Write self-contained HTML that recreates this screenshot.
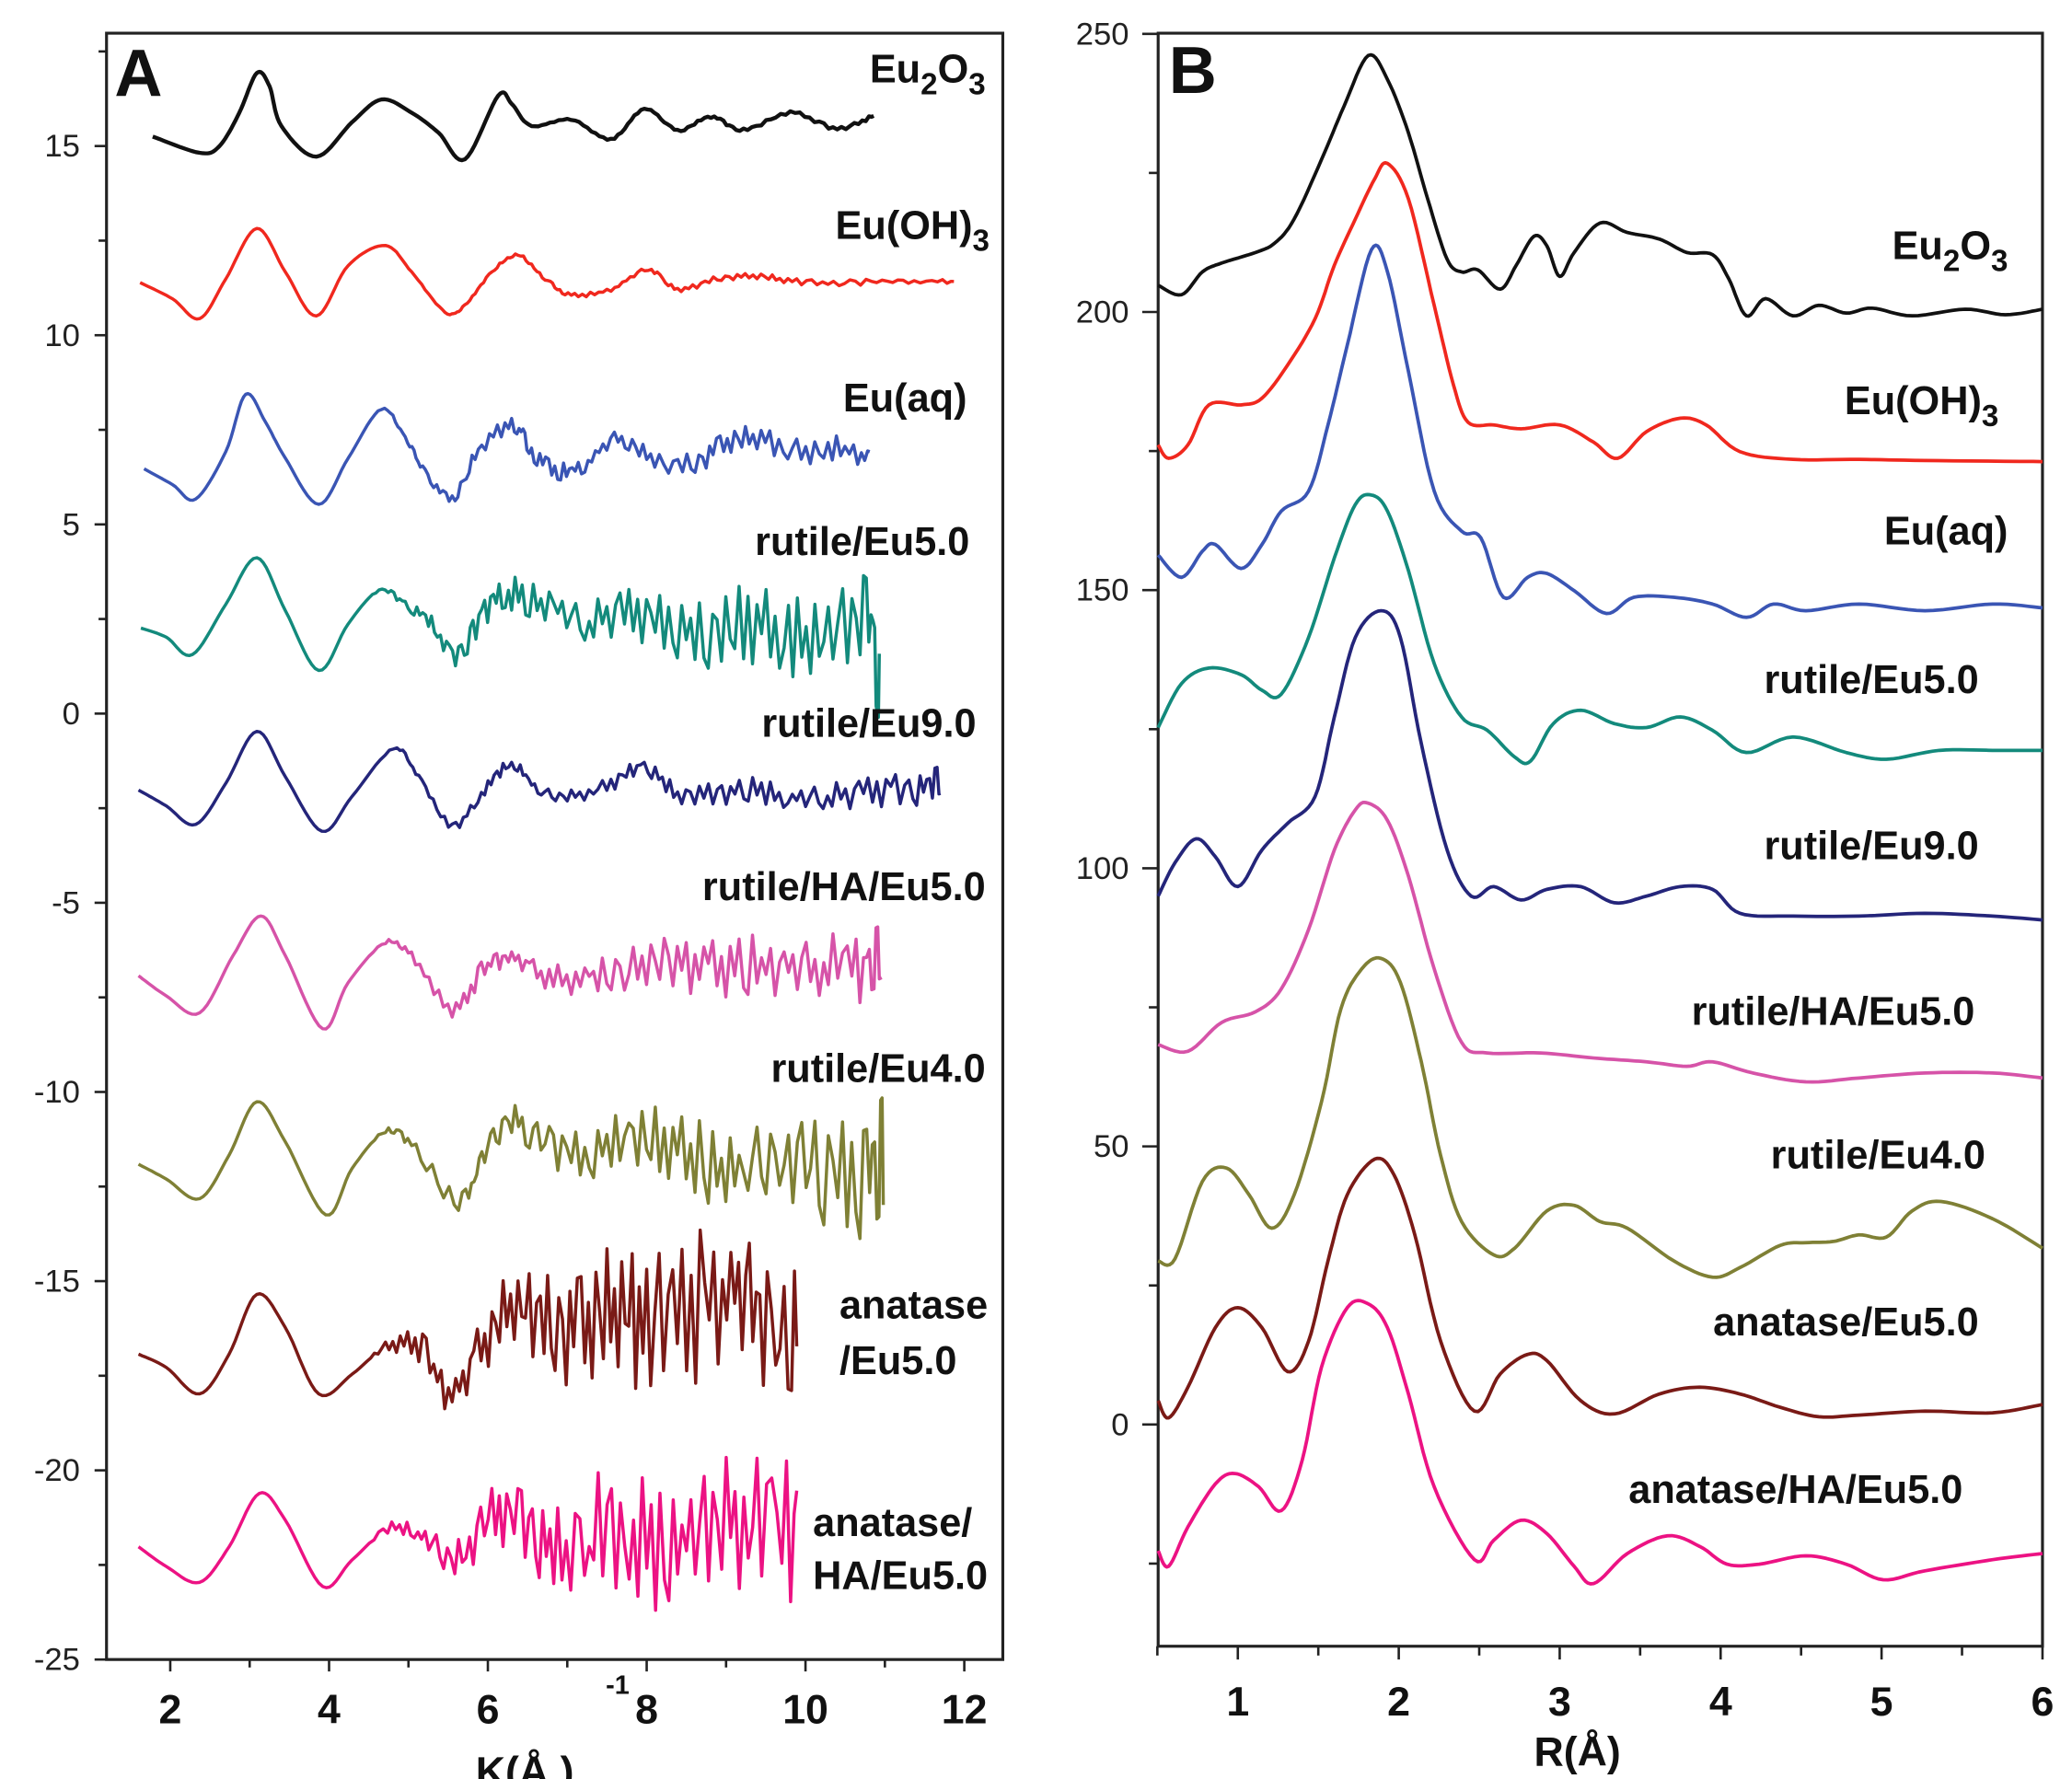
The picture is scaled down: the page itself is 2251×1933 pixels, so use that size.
<!DOCTYPE html>
<html><head><meta charset="utf-8"><style>
html,body{margin:0;padding:0;background:#fff;}
svg{display:block;}
text{font-family:"Liberation Sans",sans-serif;}
.lbl{font-weight:bold;font-size:30px;font-family:"Liberation Sans Narrow","Liberation Sans",sans-serif;}
.tk{font-size:24px;}
.xt{font-size:31px;font-weight:bold;}
</style></head><body>
<svg id="fig" width="2251" height="1933" viewBox="0 0 1560 1340" xmlns="http://www.w3.org/2000/svg">
<g id="pa"></g>
<g id="pb"></g>
</svg>
<script>
// ---------- Panel A data (k, chi*k^3 offset) ----------
const aNames=["Eu2O3","Eu(OH)3","Eu(aq)","rutile/Eu5.0","rutile/Eu9.0","rutile/HA/Eu5.0","rutile/Eu4.0","anatase/Eu5.0","anatase/HA/Eu5.0"];
const aColors=["#111111","#f0281e","#3a55b4","#138a7c","#24257a","#d653a8","#7f8035","#7a1a16","#ec1283"];
const aK0=[1.78,2.37,2.62,2.87,3.09,3.25,3.40,3.84,4.29,4.66,5.04,5.38,5.71,6.13,6.30,6.55,7.05,7.55,7.97,8.39,8.81,9.22,9.81,10.4,10.86];
const aV0=[15.25,14.82,15.0,15.88,16.93,16.58,15.53,14.72,15.63,16.23,15.88,15.35,14.65,16.33,16.12,15.53,15.7,15.18,15.98,15.42,15.77,15.42,15.88,15.46,15.81];
const aK1=[1.62,2.03,2.37,2.70,3.09,3.45,3.84,4.24,4.71,5.04,5.46,5.71,6.05,6.38,6.72,7.05,7.55,8.02,8.39,8.89,9.39,9.89,10.56,11.23,11.87];
const aV1=[11.39,10.96,10.44,11.49,12.82,11.67,10.51,11.84,12.37,11.67,10.61,10.79,11.67,12.12,11.49,11.07,11.21,11.74,11.21,11.49,11.56,11.42,11.39,11.42,11.39];
const aK2=[1.67,2.03,2.32,2.70,2.95,3.20,3.45,3.87,4.24,4.66,4.96,5.21,5.55,5.88,6.30,6.55,6.88,7.22,7.64,8.05,8.56,8.97,9.39,9.89,10.39,10.81];
const aV2=[6.47,6.05,5.67,6.93,8.44,7.70,6.75,5.53,6.75,8.05,7.28,6.40,5.70,6.93,7.63,6.93,6.40,6.58,7.28,6.75,6.58,7.11,7.28,6.93,7.0,6.75];
const aK3=[1.63,1.95,2.28,2.70,3.09,3.45,3.87,4.24,4.63,4.96,5.29,5.63,5.96,6.30,6.72,7.22,7.72,8.22,8.72,9.22,9.73,10.23,10.73,10.93];
const aV3=[2.26,2.02,1.56,2.89,4.12,2.72,1.14,2.37,3.25,2.89,2.37,1.49,2.72,3.14,2.89,2.37,2.72,2.37,2.02,2.37,2.19,2.02,2.37,1.14];
const aK4=[1.60,1.95,2.32,2.70,3.09,3.45,3.91,4.29,4.81,5.13,5.55,5.96,6.30,6.63,7.05,7.55,7.97,8.39,8.89,9.39,9.89,10.39,10.90,11.40,11.70];
const aV4=[-2.02,-2.44,-2.93,-1.84,-0.47,-1.67,-3.11,-2.19,-0.93,-1.67,-2.96,-2.02,-1.32,-2.02,-2.19,-1.84,-1.42,-2.12,-2.12,-2.02,-2.26,-2.19,-2.02,-2.02,-1.84];
const aK5=[1.60,1.95,2.37,2.79,3.14,3.45,3.92,4.24,4.71,5.04,5.55,5.96,6.30,6.72,7.22,7.72,8.22,8.72,9.22,9.73,10.23,10.73,10.96];
const aV5=[-6.93,-7.46,-7.91,-6.40,-5.35,-6.40,-8.33,-7.11,-6.05,-6.40,-7.81,-6.75,-6.47,-6.93,-7.11,-6.75,-6.58,-6.75,-6.68,-6.75,-6.68,-6.75,-6.58];
const aK6=[1.60,1.95,2.37,2.74,3.09,3.45,3.96,4.29,4.71,5.04,5.63,5.96,6.30,6.72,7.22,7.72,8.22,8.72,9.22,9.73,10.23,10.73,10.98];
const aV6=[-11.91,-12.30,-12.82,-11.67,-10.26,-11.32,-13.25,-12.02,-11.04,-11.39,-12.89,-11.67,-10.79,-11.32,-11.67,-11.32,-11.32,-11.84,-12.02,-11.67,-12.02,-12.37,-11.91];
const aK7=[1.60,1.95,2.37,2.74,3.09,3.45,3.87,4.29,4.71,5.13,5.55,5.96,6.38,6.80,7.22,7.64,8.05,8.56,9.06,9.47,9.89];
const aV7=[-16.93,-17.28,-17.98,-16.93,-15.35,-16.23,-17.98,-17.46,-16.75,-16.75,-17.98,-16.58,-15.70,-16.23,-16.23,-15.70,-16.23,-15.88,-15.35,-15.88,-16.23];
const aK8=[1.60,1.95,2.37,2.74,3.12,3.45,3.92,4.29,4.79,5.21,5.63,6.05,6.47,6.88,7.39,7.89,8.39,8.89,9.39,9.89];
const aV8=[-22.02,-22.54,-22.96,-22.02,-20.61,-21.32,-23.07,-22.37,-21.49,-21.84,-22.37,-21.14,-21.49,-22.19,-21.49,-21.84,-22.02,-21.49,-21.32,-21.84];
const noiseP1=[0.2,-0.3,0.5,-0.1,0.4,-0.6,0.3,0.7,-0.4,0.2,-0.8,0.5,0.1,-0.5,0.9,-0.3,0.4,-0.7,0.6,-0.2,0.8,-0.9,0.3,0.5,-0.6,1.0,-0.4,-0.8,0.6,0.2,-1.0,0.7,-0.3,0.9,-0.6,0.4,-0.9,0.8,0.1,-0.7,1.0,-0.5,0.3,-0.9,0.7,-0.2,0.9,-1.0,0.5,-0.4,0.8,-0.8,0.2,1.0,-0.6,0.4,-1.0,0.7,-0.3,0.9,-0.7,0.5,-0.9,1.0,-0.5,0.3,-0.2,0.6,-0.8];
const noiseP2=[-0.4,0.3,-0.1,0.6,-0.5,0.2,0.8,-0.3,-0.7,0.5,0.1,-0.6,0.9,-0.2,0.4,-0.9,0.3,0.7,-0.5,-0.1,0.8,-0.7,0.5,-1.0,0.6,0.2,-0.4,0.9,-0.8,0.3,0.6,-0.5,-0.9,0.8,-0.2,0.5,-0.7,1.0,-0.6,0.2,-0.9,0.6,0.4,-0.8,0.9,-0.3,-0.6,1.0,-0.9,0.4,0.7,-1.0,0.5,-0.2,0.9,-0.7,0.3,-0.9,1.0,-0.4,0.6,-1.0,0.8,-0.5,0.2,-0.8,0.7];
const envK=[4.5,6,8,10,11];
const aEnv=[[0,0,0.03,0.05,0.05],[0,0.03,0.07,0.08,0.08],[0.0,0.2,0.28,0.33,0.35],[0.0,0.4,0.75,1.2,1.5],[0.0,0.15,0.22,0.38,0.45],[0.0,0.3,0.6,0.95,1.0],[0.0,0.4,0.85,1.4,1.8],[0.0,1.0,1.9,2.5,2.5],[0.0,0.8,1.7,2.2,2.2]];
const aPat=[1,1,1,2,2,1,2,1,2];
const aLabelY=[62,180,310,418,555,678,815,993,1157];
// ---------- Panel B data (R, |FT|) ----------
const bNames=aNames;
const bR0=[0.505,0.65,0.78,0.90,1.11,1.23,1.35,1.52,1.66,1.81,1.93,2.06,2.18,2.30,2.39,2.49,2.63,2.73,2.84,2.92,3.0,3.09,3.25,3.42,3.62,3.79,3.95,4.05,4.16,4.28,4.45,4.61,4.78,4.94,5.19,5.52,5.77,6.0];
const bV0=[204.8,203.1,207.2,208.8,210.7,212.4,216.7,227.4,237.0,246.1,241.8,232.2,220.3,209.5,207.2,207.6,204.1,208.4,213.6,211.9,206.4,210.7,216.0,214.3,213.1,210.7,210.3,206.0,199.3,202.4,199.3,201.2,199.8,200.7,199.3,200.5,199.5,200.5];
const bR1=[0.505,0.57,0.69,0.82,1.02,1.15,1.31,1.48,1.60,1.73,1.85,1.93,2.06,2.22,2.34,2.43,2.59,2.76,3.0,3.21,3.36,3.54,3.75,3.91,4.12,4.45,4.86,5.27,6.0];
const bV1=[176.1,173.7,176.1,183.3,183.3,184.5,190.5,198.8,208.4,216.7,223.9,226.7,220.3,201.2,186.9,180.2,179.7,179,179.7,176.6,173.7,178.5,180.9,179.7,174.9,173.5,173.5,173.3,173.1];
const bR2=[0.505,0.65,0.78,0.86,1.02,1.15,1.27,1.44,1.56,1.68,1.83,1.93,2.06,2.22,2.39,2.51,2.65,2.80,2.92,3.09,3.29,3.46,3.71,3.95,4.16,4.33,4.53,4.86,5.27,5.69,6.0];
const bV2=[156.3,152.3,157.0,158.2,153.9,158.2,164.2,167.8,179.7,194.0,211.2,207.2,189.3,167.8,160.6,159.4,148.7,152.3,153.0,149.9,145.8,148.7,148.7,147.5,145.1,147.5,146.3,147.5,146.3,147.5,146.8];
const bR3=[0.505,0.65,0.82,1.02,1.15,1.27,1.44,1.60,1.73,1.83,1.93,2.06,2.22,2.39,2.55,2.72,2.82,2.96,3.13,3.34,3.54,3.75,3.95,4.16,4.45,4.78,5.03,5.36,5.69,6.0];
const bV3=[125.3,133.2,136.0,134.8,132.0,131.3,141.5,155.8,165.4,167.1,164.2,153.5,136.8,127.2,124.8,120.0,119.3,126.0,128.4,126.0,125.3,127.2,124.8,120.8,123.6,120.8,119.6,121.2,121.2,121.2];
const bR4=[0.505,0.61,0.74,0.86,1.0,1.15,1.31,1.48,1.60,1.73,1.89,2.01,2.14,2.30,2.45,2.59,2.76,2.92,3.13,3.34,3.54,3.75,3.95,4.12,4.45,4.86,5.27,5.69,6.0];
const bV4=[95.0,101.0,105.3,102.1,96.7,103.3,108.1,112.9,127.2,141.5,146.3,141.5,122.4,103.3,95.0,96.7,94.3,96.2,96.7,93.8,95.0,96.7,96.2,91.9,91.4,91.4,91.9,91.4,90.7];
const bR5=[0.505,0.69,0.90,1.11,1.27,1.44,1.60,1.73,1.81,1.93,2.06,2.22,2.39,2.55,2.88,3.21,3.54,3.79,3.95,4.20,4.53,4.86,5.27,5.69,6.0];
const bV5=[68.3,67.1,72.3,74.2,78.3,89.0,103.3,110.5,111.7,108.6,98.6,81.9,68.7,66.8,66.8,65.9,65.2,64.4,65.2,63.2,61.6,62.3,63.2,63.2,62.3];
const bR6=[0.505,0.61,0.78,0.93,1.07,1.21,1.35,1.52,1.64,1.77,1.89,2.01,2.14,2.26,2.39,2.59,2.72,2.92,3.09,3.25,3.42,3.71,3.95,4.12,4.37,4.53,4.70,4.86,5.03,5.19,5.37,5.69,6.0];
const bV6=[29.4,29.8,43.7,46.1,41.3,35.3,41.3,58.0,74.7,81.9,83.8,79.5,65.2,48.4,36.5,30.5,31.7,38.4,39.4,36.5,35.3,29.4,26.5,28.2,32.2,32.7,32.9,34.1,33.7,38.4,40.1,37.0,31.7];
const bR7=[0.505,0.57,0.69,0.86,1.0,1.15,1.31,1.44,1.56,1.68,1.85,1.97,2.10,2.26,2.47,2.63,2.80,2.92,3.13,3.34,3.62,3.87,4.12,4.37,4.61,4.86,5.27,5.69,6.0];
const bV7=[4.3,1.2,6.7,17.4,21.0,17.4,9.5,15.0,29.4,41.3,47.7,44.9,34.1,15.0,2.4,9.1,12.6,11.5,4.3,1.9,5.5,6.7,5.5,3.1,1.4,1.7,2.4,2.1,3.6];
const bR8=[0.505,0.57,0.69,0.86,0.98,1.13,1.27,1.40,1.52,1.68,1.81,1.93,2.06,2.22,2.47,2.59,2.76,2.92,3.09,3.21,3.42,3.67,3.87,4.04,4.24,4.53,4.78,5.01,5.27,5.69,6.0];
const bV8=[-22.7,-25.5,-18.4,-10.7,-8.8,-11.2,-15.5,-6.4,10.3,21.0,21.7,17.4,5.5,-11.2,-24.3,-20.8,-17.2,-19.6,-25.5,-28.6,-23.2,-20.0,-21.9,-25.1,-25.1,-23.6,-25.1,-27.9,-26.3,-24.3,-23.2];
const bLabel=[[1512,195],[1505,312],[1512,410],[1490,522],[1490,647],[1487,772],[1495,880],[1490,1006],[1478,1132]];
const aTicks=[15,10,5,0,-5,-10,-15,-20,-25];
const aXTicks=[2,4,6,8,10,12];
const bTicks=[250,200,150,100,50,0];
const bXTicks=[1,2,3,4,5,6];

const NS="http://www.w3.org/2000/svg";
function mk(parent,tag,attrs,txt){const e=document.createElementNS(NS,tag);for(const k in attrs)e.setAttribute(k,attrs[k]);if(txt!==undefined)e.textContent=txt;parent.appendChild(e);return e;}
const AX={x0:80,x1:755,y0:25,y1:1250};
function axX(k){return 128+(k-2)*59.8;}
function axY(v){return 110-(v-15)*28.5;}
const BX={x0:872,x1:1538,y0:25,y1:1240};
function bxX(r){return 932+(r-1)*121.2;}
function bxY(v){return 1073-v*4.19;}
function interp(xs,ys,x){if(x<=xs[0])return ys[0];for(let i=1;i<xs.length;i++){if(x<=xs[i]){const t=(x-xs[i-1])/(xs[i]-xs[i-1]);return ys[i-1]+t*(ys[i]-ys[i-1]);}}return ys[ys.length-1];}
function crPoints(xs,ys,sub){const pts=[];const n=xs.length;for(let i=0;i<n-1;i++){const i0=Math.max(0,i-1),i3=Math.min(n-1,i+2);for(let s=0;s<sub;s++){const t=s/sub,t2=t*t,t3=t2*t;const f=(p0,p1,p2,p3)=>0.5*((2*p1)+(-p0+p2)*t+(2*p0-5*p1+4*p2-p3)*t2+(-p0+3*p1-3*p2+p3)*t3);pts.push([f(xs[i0],xs[i],xs[i+1],xs[i3]),f(ys[i0],ys[i],ys[i+1],ys[i3])]);}}pts.push([xs[n-1],ys[n-1]]);return pts;}

const pa=document.getElementById('pa');
const pb=document.getElementById('pb');
const fa=mk(pa,'rect',{x:AX.x0,y:AX.y0,width:AX.x1-AX.x0,height:AX.y1-AX.y0,fill:'none',stroke:'#222','stroke-width':2.2});


for(let v=-25;v<=17.5;v+=2.5){const y=axY(v);const major=(v%5===0);const t=mk(pa,'line',{x1:AX.x0-(major?9:6),x2:AX.x0,y1:y,y2:y,stroke:'#222','stroke-width':1.8});}
aTicks.forEach(v=>{const t=mk(pa,'text',{x:60,y:axY(v)+8,'text-anchor':'end',class:'tk',fill:'#222'},String(v));});
for(let k=2;k<=12;k+=1){const x=axX(k);const t=mk(pa,'line',{x1:x,x2:x,y1:AX.y1,y2:AX.y1+(k%2===0?9:6),stroke:'#222','stroke-width':1.8});}
aXTicks.forEach(k=>{const t=mk(pa,'text',{x:axX(k),y:1298,'text-anchor':'middle',class:'xt',fill:'#111'},String(k));});
const axt=mk(pa,'text',{x:358,y:1345,class:'xt',fill:'#111'},'K(Å  )');


const sup=mk(pa,'text',{x:456,y:1276,style:'font-size:20px;font-weight:bold',fill:'#111'},'-1');


const la=mk(pa,'text',{x:86,y:72,style:'font-size:50px;font-weight:bold',fill:'#111'},'A');



const aKs=[aK0,aK1,aK2,aK3,aK4,aK5,aK6,aK7,aK8];
const aVs=[aV0,aV1,aV2,aV3,aV4,aV5,aV6,aV7,aV8];
aKs.forEach((ks,i)=>{
  const pat=aPat[i]===1?noiseP1:noiseP2;
  const pts=crPoints(ks,aVs[i],i<2?10:9);
  const out=[];
  for(let j=0;j<pts.length;j++){const k=pts[j][0];let v=pts[j][1];
    if(k>=4.5){const idx=Math.round((k-4.5)/0.05);const amp=interp(envK,aEnv[i],k);v+=amp*pat[(idx+i*7)%pat.length];}
    out.push(axX(k).toFixed(1)+','+axY(v).toFixed(1));}
  const p=mk(pa,'polyline',{points:out.join(' '),fill:'none',stroke:aColors[i],'stroke-width':i<1?3:2.4,'stroke-linejoin':'round'});
  
  
});
function label(parent,x,y,name,anchor,nm){
  const t=mk(parent,'text',{x:x,y:y,'text-anchor':anchor,class:'lbl',fill:'#111'});
  
  
  if(name==='Eu2O3'){t.innerHTML='Eu<tspan dy="9" style="font-size:23px">2</tspan><tspan dy="-9">O</tspan><tspan dy="9" style="font-size:23px">3</tspan>';}
  else if(name==='Eu(OH)3'){t.innerHTML='Eu(OH)<tspan dy="9" style="font-size:23px">3</tspan>';}
  else t.textContent=name;
  return t;}
const aLX=[742,745,728,730,735,742,742,745,745];
aNames.forEach((n,i)=>{
  if(i===7){label(pa,632,aLabelY[i],'anatase','start','label-a-anatase-eu5');label(pa,632,1035,'/Eu5.0','start','label-a-anatase-eu5-line2');}
  else if(i===8){label(pa,612,aLabelY[i],'anatase/','start','label-a-anatase-ha');label(pa,612,1197,'HA/Eu5.0','start','label-a-anatase-ha-line2');}
  else label(pa,aLX[i],aLabelY[i],n,'end','label-a-'+(i+1));
});

const fb=mk(pb,'rect',{x:BX.x0,y:BX.y0,width:BX.x1-BX.x0,height:BX.y1-BX.y0,fill:'none',stroke:'#222','stroke-width':2.2});


for(let v=-25;v<=250;v+=25){const y=bxY(v);const major=(v%50===0);const t=mk(pb,'line',{x1:BX.x0-(major?12:7),x2:BX.x0,y1:y,y2:y,stroke:'#222','stroke-width':1.8});}
bTicks.forEach(v=>{const t=mk(pb,'text',{x:850,y:bxY(v)+8,'text-anchor':'end',class:'tk',fill:'#222'},String(v));});
for(let r=0.5;r<=6.001;r+=0.5){const x=bxX(r);const t=mk(pb,'line',{x1:x,x2:x,y1:BX.y1,y2:BX.y1+(Math.abs(r-Math.round(r))<0.01?10:7),stroke:'#222','stroke-width':1.8});}
bXTicks.forEach(r=>{const t=mk(pb,'text',{x:bxX(r),y:1292,'text-anchor':'middle',class:'xt',fill:'#111'},String(r));});
const bxt=mk(pb,'text',{x:1155,y:1330,class:'xt',fill:'#111'},'R(Å)');


const lb=mk(pb,'text',{x:880,y:70,style:'font-size:50px;font-weight:bold',fill:'#111'},'B');


const bRs=[bR0,bR1,bR2,bR3,bR4,bR5,bR6,bR7,bR8];
const bVs=[bV0,bV1,bV2,bV3,bV4,bV5,bV6,bV7,bV8];
bRs.forEach((rs,i)=>{
  const pts=crPoints(rs,bVs[i],8).map(p=>bxX(p[0]).toFixed(1)+','+bxY(p[1]).toFixed(1));
  const p=mk(pb,'polyline',{points:pts.join(' '),fill:'none',stroke:aColors[i],'stroke-width':2.6,'stroke-linejoin':'round'});
  
  
});
bNames.forEach((n,i)=>{label(pb,bLabel[i][0],bLabel[i][1],n,'end','label-b-'+(i+1));});
</script>
</body></html>
